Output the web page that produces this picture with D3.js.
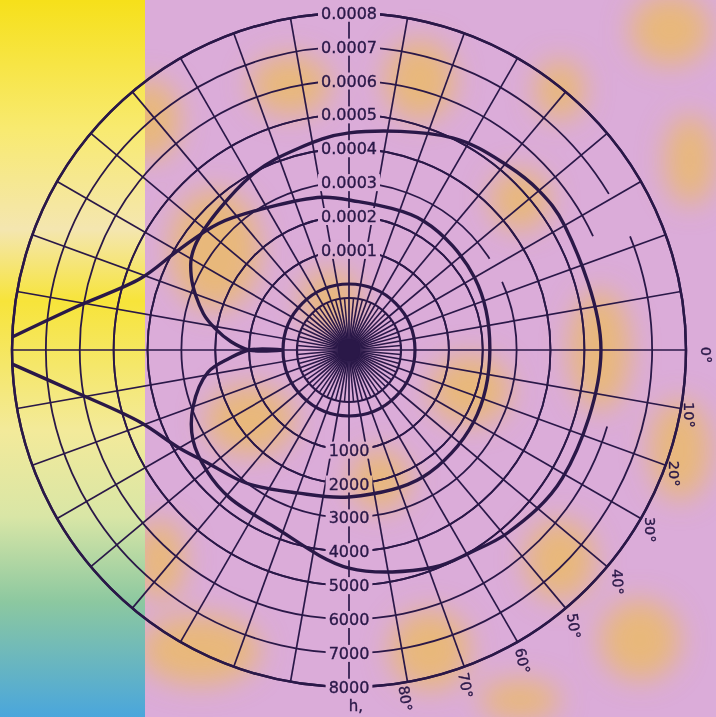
<!DOCTYPE html>
<html><head><meta charset="utf-8">
<script src="https://cdn.jsdelivr.net/npm/d3@7"></script>
<style>body{margin:0;background:#dcaedc}svg{display:block}</style>
</head><body>
<svg id="c" width="716" height="717"></svg>
<script>
// ---------- data ----------
const upperLabels = ["0.0001","0.0002","0.0003","0.0004","0.0005","0.0006","0.0007","0.0008"];
const lowerLabels = ["1000","2000","3000","4000","5000","6000","7000","8000"];
const ringValues  = [1000,2000,3000,4000,5000,6000,7000,8000];
// where each ring's upper half / lower half arc stops on the right side (degrees)
const ringUpperEnd = [-180,-180,33,-180,-180,25,31,-180];
const ringLowerEnd = [180,180,24,180,180,-16.5,22,180];
const angleTicks  = [0,10,20,30,40,50,60,70,80];
const angleLabels = ["0°","10°","20°","30°","40°","50°","60°","70°","80°"];
const spokeAngles = [0,10,20,30,40,50,60,70,80,90,100,110,120,130,140,150,160,170,180,190,200,210,220,230,240,250,260,270,280,290,300,310,320,330,340,350];
const hubSpokes   = [5,15,25,35,45,55,65,75,85,95,105,115,125,135,145,155,165,175,185,195,205,215,225,235,245,255,265,275,285,295,305,315,325,335,345,355];
// curves: [angle in degrees (counter-clockwise from 0° at right), h]
const curveInner = [[177.8,8000],[171,6200],[161,4550],[150,3900],[136,3420],[119.5,2890],[100,2630],[90,2480],[60,2450],[30,2330],[0,2210],[-30,2300],[-60,2390],[-90,2390],[-110,2540],[-127.5,3010],[-141.5,3400],[-150,3840],[-161,4580],[-171,6170],[-177.6,8000]];
const curveOuter = [[180,0],[180,1000],[176,1540],[171,2040],[166,2480],[155,3190],[146,3540],[119,3960],[104,4190],[90,4460],[64,5020],[50,5220],[40,5370],[30,5400],[0,5490],[-31,5400],[-49,5200],[-59,5020],[-69,4930],[-90,4490],[-113,3720],[-129,3660],[-139,3570],[-150,3370],[-160,2950],[-171,2270],[-176,1590],[-180,1000],[-180,0]];

// ---------- layout ----------
const W = 716, H = 717, cx = 349, cy = 350;
const svg = d3.select("#c");
const ink = "#2a1848";
const r = d3.scaleLinear().domain([0, 8000]).range([66, 337]);
const rad = d3.scaleLinear().domain([0, 180]).range([0, Math.PI]);
const px = (a, v) => cx + r(v) * Math.cos(rad(a));
const py = (a, v) => cy - r(v) * Math.sin(rad(a));
const labelRadius = [357,346,348,351,355,356,356,355,353];
const labelRot    = [90,90,90,90,88,82,78,80,82];

// ---------- background ----------
const defs = svg.append("defs");
const lg = defs.append("linearGradient").attr("id","strip").attr("x1",0).attr("y1",0).attr("x2",0).attr("y2",1);
[[0,"#f6e01a"],[0.18,"#f8ea70"],[0.32,"#f4e6b0"],[0.42,"#f7e43a"],[0.6,"#f3ea9a"],[0.72,"#d9e6a6"],[0.84,"#8cc8a0"],[1,"#4aa6dc"]]
  .forEach(([o,c]) => lg.append("stop").attr("offset",o).attr("stop-color",c));
defs.append("filter").attr("id","blur").attr("x","-50%").attr("y","-50%").attr("width","200%").attr("height","200%")
  .append("feGaussianBlur").attr("stdDeviation",14);
svg.append("rect").attr("width",W).attr("height",H).attr("fill","#dbacd9");
const blobs = [[215,250,45,60],[290,85,40,30],[420,80,35,40],[470,390,40,35],[600,350,30,60],[670,30,40,35],[690,160,25,45],[680,450,30,50],[200,650,60,35],[430,650,40,40],[560,560,35,40],[250,420,45,35],[520,200,30,30],[330,300,30,30],[640,640,40,40],[150,120,30,40],[380,480,30,30],[520,700,40,20],[560,90,25,30],[160,560,25,40]];
svg.append("g").attr("filter","url(#blur)").selectAll("ellipse").data(blobs).join("ellipse")
  .attr("cx",d=>d[0]).attr("cy",d=>d[1]).attr("rx",d=>d[2]).attr("ry",d=>d[3])
  .attr("fill","#ecbc5c").attr("opacity",0.75);
svg.append("rect").attr("x",0).attr("y",0).attr("width",145).attr("height",H).attr("fill","url(#strip)");

// ---------- labels (measure first for mask) ----------
const labelG = svg.append("g").attr("font-family","DejaVu Sans, sans-serif").attr("font-size",16)
  .attr("fill",ink).attr("stroke",ink).attr("stroke-width",0.35);
const upT = labelG.selectAll(".up").data(ringValues).join("text")
  .attr("x", cx).attr("y", v => cy - r(v)).attr("dy","0.36em").attr("text-anchor","middle")
  .text((v,i) => upperLabels[i]);
const loT = labelG.selectAll(".lo").data(ringValues).join("text")
  .attr("x", cx).attr("y", v => cy + r(v)).attr("dy","0.36em").attr("text-anchor","middle")
  .text((v,i) => lowerLabels[i]);
labelG.append("text").attr("x", cx + 7).attr("y", cy + r(8000) + 24).attr("font-size",15).attr("text-anchor","middle").text("h,");
labelG.selectAll(".ang").data(angleTicks).join("text")
  .attr("transform", (a,i) => `translate(${cx + labelRadius[i]*Math.cos(rad(-a-0.8))},${cy - labelRadius[i]*Math.sin(rad(-a-0.8))}) rotate(${labelRot[i]})`)
  .attr("text-anchor","middle").attr("dy","0.36em").attr("font-size",14.5)
  .text((a,i) => angleLabels[i]);

const mask = defs.append("mask").attr("id","lblmask").attr("maskUnits","userSpaceOnUse")
  .attr("x",0).attr("y",0).attr("width",W).attr("height",H);
mask.append("rect").attr("width",W).attr("height",H).attr("fill","white");
[...upT.nodes(), ...loT.nodes()].forEach(n => {
  const b = n.getBBox();
  mask.append("rect").attr("x",b.x-3).attr("y",b.y+1).attr("width",b.width+6).attr("height",b.height-2).attr("fill","black");
});

// ---------- grid ----------
const grid = svg.insert("g", () => labelG.node()).attr("mask","url(#lblmask)").attr("stroke",ink).attr("fill","none");
const arc = d3.arc();
// ring halves: upper half runs from 180° (left) over the top to ringUpperEnd; lower half from -180° under the bottom to ringLowerEnd
const ringArcs = [];
ringValues.forEach((v,i) => {
  ringArcs.push({v, a0: 180, a1: ringUpperEnd[i]});
  ringArcs.push({v, a0: -180, a1: ringLowerEnd[i]});
});
const toArc = a => rad(90 - a);   // math degrees -> d3.arc angle (clockwise from 12 o'clock)
grid.selectAll(".ring").data(ringArcs).join("path")
  .attr("transform",`translate(${cx},${cy})`)
  .attr("d", d => arc({innerRadius: r(d.v), outerRadius: r(d.v), startAngle: toArc(d.a0), endAngle: toArc(d.a1)}))
  .attr("stroke-width", d => d.v === 8000 ? 2.4 : 1.8);
grid.append("circle").attr("cx",cx).attr("cy",cy).attr("r",r(0)).attr("stroke-width",3.2);
grid.append("circle").attr("cx",cx).attr("cy",cy).attr("r",52).attr("stroke-width",2.2);
grid.selectAll(".spoke").data(spokeAngles).join("line")
  .attr("x1",cx).attr("y1",cy).attr("x2",a=>px(a,8000)).attr("y2",a=>py(a,8000)).attr("stroke-width",1.7);
grid.selectAll(".hub").data(hubSpokes).join("line")
  .attr("x1",cx).attr("y1",cy).attr("x2",a=>cx+52*Math.cos(rad(a))).attr("y2",a=>cy-52*Math.sin(rad(a))).attr("stroke-width",1.5);
grid.append("circle").attr("cx",cx).attr("cy",cy).attr("r",11).attr("fill",ink).attr("stroke","none");

// ---------- curves ----------
const line = d3.line().x(d=>px(d[0],d[1])).y(d=>py(d[0],d[1])).curve(d3.curveCatmullRom.alpha(0.5));
const curves = svg.insert("g", () => labelG.node()).attr("fill","none").attr("stroke",ink).attr("stroke-width",3.4).attr("stroke-linejoin","round");
curves.append("path").attr("d", line(curveInner));
curves.append("path").attr("d", line(curveOuter));
</script>
</body></html>
